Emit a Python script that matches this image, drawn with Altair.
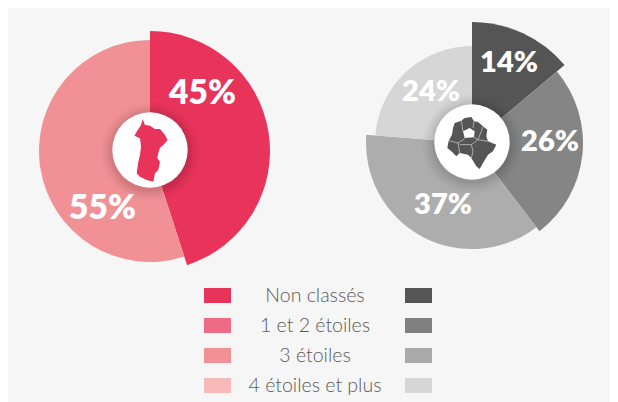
import math
import altair as alt
import pandas as pd

# ---- data ----
left_values = [45, 55]
left_colors = ["#e8335b", "#f29195"]
left_radii = [120, 111]
left_labels = ["45%", "55%"]

right_values = [14, 26, 37, 24]
right_colors = ["#555555", "#858585", "#adadad", "#d6d6d6"]
right_radii = [121, 111, 106, 97]
right_labels = ["14%", "26%", "37%", "24%"]

legend_names = ["Non classés", "1 et 2 étoiles", "3 étoiles", "4 étoiles et plus"]
legend_reds = ["#e8335b", "#ee6b85", "#f29195", "#f8b9b9"]
legend_greys = ["#555555", "#808080", "#aaaaaa", "#d6d6d6"]

OX, OY = 8, 8  # page margin
FONT = "Lato"


def px(v):
    return alt.value(v - OX)


def py(v):
    return alt.value(v - OY)


def pie(values, colors, radii, cx, cy):
    df = pd.DataFrame({"v": values, "c": colors, "r": radii, "i": range(len(values))})
    df["end"] = df["v"].cumsum()
    df["start"] = df["end"] - df["v"]
    return alt.Chart(df).mark_arc(stroke=None).encode(
        theta=alt.Theta("start:Q", scale=alt.Scale(domain=[0, sum(values)], range=[0, 2 * math.pi])),
        theta2="end:Q",
        radius=alt.Radius("r:Q", scale=None),
        color=alt.Color("c:N", scale=None),
        x=px(cx), y=py(cy),
    )


def disc(cx, cy, r, color, opacity=1.0):
    return alt.Chart(pd.DataFrame({"s": [0], "e": [1], "r": [r]})).mark_arc(
        color=color, opacity=opacity, stroke=None
    ).encode(
        theta=alt.Theta("s:Q", scale=alt.Scale(domain=[0, 1], range=[0, 2 * math.pi])),
        theta2="e:Q",
        radius=alt.Radius("r:Q", scale=None),
        x=px(cx), y=py(cy),
    )


def hub(cx, cy):
    # soft shadow, then white disc
    layers = []
    for r, o in [(50, 0.012), (48, 0.016), (46, 0.02), (44, 0.025), (42, 0.03), (40, 0.035)]:
        layers.append(disc(cx, cy + 2, r, "#000000", o))
    layers.append(disc(cx, cy, 37.7, "#ffffff"))
    return layers


def glyph(path, cx, cy, size, fill=None, stroke=None, sw=0.8):
    kw = {"shape": path, "size": size, "opacity": 1}
    if fill:
        kw.update(filled=True, fill=fill)
    else:
        kw.update(filled=False, stroke=stroke, strokeWidth=sw)
    return alt.Chart(pd.DataFrame({"a": [0]})).mark_point(**kw).encode(x=px(cx), y=py(cy))


def to_path(rings, c, scale=95.0):
    out = []
    for ring, closed in rings:
        pts = [f"{(x - c) / scale:.3f},{(y - c) / scale:.3f}" for x, y in ring]
        out.append("M" + " L".join(pts) + (" Z" if closed else ""))
    return " ".join(out)


left_outline = [(113, 42), (120, 60), (135, 62), (150, 72), (165, 72), (180, 90), (188, 105),
                (175, 120), (165, 128), (160, 145), (157, 160), (165, 170), (160, 195),
                (150, 205), (145, 230), (125, 225), (105, 215), (95, 205), (100, 170),
                (105, 150), (108, 125), (105, 100), (88, 92), (100, 72), (108, 60)]
right_outline = [(80, 75), (100, 68), (110, 60), (130, 57), (138, 70), (150, 72), (165, 85),
                 (178, 95), (175, 115), (180, 130), (205, 140), (195, 160), (180, 170),
                 (165, 195), (155, 213), (145, 205), (130, 180), (120, 170), (95, 165),
                 (85, 175), (70, 160), (58, 150), (62, 128), (72, 110), (75, 90)]
right_hole = [(105, 100), (110, 120), (138, 118), (140, 100), (125, 90)]
right_lines = [
    ([(62, 128), (90, 135), (110, 122)], False),
    ([(90, 135), (95, 165)], False),
    ([(95, 140), (130, 140), (135, 160), (130, 180)], False),
    ([(130, 140), (150, 125), (180, 130)], False),
    ([(150, 125), (160, 100), (165, 85)], False),
    ([(138, 118), (150, 125)], False),
    ([(105, 100), (100, 68)], False),
    ([(135, 90), (138, 70)], False),
]


def label(text, x, baseline, size, color="#ffffff", weight=800):
    return alt.Chart(pd.DataFrame({"t": [text]})).mark_text(
        font=FONT, fontSize=size, fontWeight=weight, color=color,
        align="center", baseline="alphabetic",
    ).encode(text="t:N", x=px(x), y=py(baseline))


def swatch(color, x0, x1, yc):
    return alt.Chart(pd.DataFrame({"c": [color]})).mark_rect(color=color).encode(
        x=px(x0), x2=px(x1), y=py(yc - 7.5), y2=py(yc + 7.5)
    )


LC = (150, 151)
RC = (472, 143)

layers = [pie(left_values, left_colors, left_radii, *LC)]
layers += [pie(right_values, right_colors, right_radii, *RC)]
layers += hub(LC[0], LC[1] - 1) + hub(RC[0], RC[1] - 1)
layers.append(glyph(to_path([(left_outline, True)], 135), 150, 150, 63.3 ** 2, fill="#e8335b"))
layers.append(glyph(to_path([(right_outline, True), (right_hole, True)], 132), 472, 142, 63.3 ** 2, fill="#555555"))
layers.append(glyph(to_path(right_lines, 132), 472, 142, 63.3 ** 2, stroke="#d0d0d0", sw=0.7))

for t, x, b in zip(left_labels, [202.5, 102.5], [104, 219]):
    layers.append(label(t, x, b, 33.5))
for t, x, b in zip(right_labels, [509, 550, 443, 431], [72, 151, 214, 101]):
    layers.append(label(t, x, b, 29))

for name, red, grey, yc in zip(legend_names, legend_reds, legend_greys, [295.5, 325.5, 355.5, 385.5]):
    layers.append(swatch(red, 204, 231, yc))
    layers.append(swatch(grey, 405, 432, yc))
    layers.append(label(name, 315, yc + 6.5, 19.5, color="#5a5a5a", weight=300))

chart = alt.layer(*layers).resolve_scale(theta="independent").properties(
    width=602, height=394, padding=0, background="#f6f6f6",
    autosize=alt.AutoSizeParams(type="none"),
).configure_view(stroke=None)

chart.save("out.html", embed_options={"renderer": "svg", "actions": False})
